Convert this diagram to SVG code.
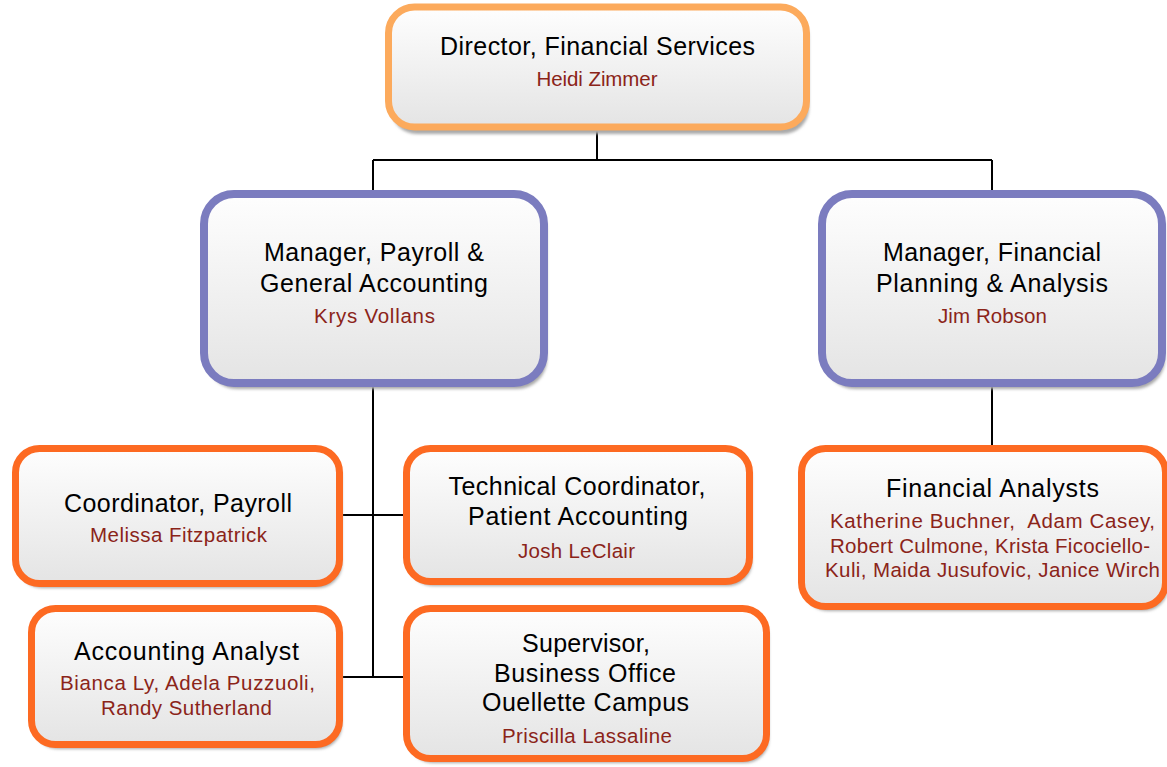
<svg xmlns="http://www.w3.org/2000/svg" width="1167" height="767" viewBox="0 0 1167 767">
<defs>
<linearGradient id="g" x1="0" y1="0" x2="0" y2="1">
<stop offset="0" stop-color="#fefefe"/>
<stop offset="1" stop-color="#e4e4e4"/>
</linearGradient>
<filter id="blur" x="-5%" y="-5%" width="110%" height="115%"><feGaussianBlur stdDeviation="1.5"/></filter>
</defs>
<style>
.box{fill:url(#g)}
.sh{fill:#a9a9a9;filter:url(#blur)}
.dir{stroke:#fcaa5c;stroke-width:7}
.mgr{stroke:#7b7cbf;stroke-width:8}
.leaf{stroke:#fd6a22;stroke-width:7}
.t{font-family:"Liberation Sans",Arial,sans-serif;font-size:25px;fill:#000;text-anchor:middle}
.n{font-family:"Liberation Sans",Arial,sans-serif;font-size:20.5px;fill:#8b2419;text-anchor:middle}
.c{stroke:#000;stroke-width:2;fill:none}
</style>
<rect width="1167" height="767" fill="#fff"/>
<g id="connectors">
<path class="c" d="M597 130V160M373 160H992M373 160V192M992 160V192"/>
<path class="c" d="M373 386V677M343 515H405M343 677H405"/>
<path class="c" d="M992 386V447"/>
</g>
<g id="director">
<rect class="sh" x="391" y="12" width="418" height="122" rx="26"/>
<rect class="box dir" x="388.5" y="7" width="418" height="120" rx="26"/>
<text class="t" x="597.5" y="55" textLength="315" lengthAdjust="spacing">Director, Financial Services</text>
<text class="n" x="597" y="86" textLength="121" lengthAdjust="spacing">Heidi Zimmer</text>
</g>
<g id="mgr-payroll">
<rect class="sh" x="207" y="200" width="340" height="189" rx="30"/>
<rect class="box mgr" x="204" y="194" width="340" height="189" rx="30"/>
<text class="t" x="374" y="261" textLength="220" lengthAdjust="spacing">Manager, Payroll &amp;</text>
<text class="t" x="374" y="292" textLength="228" lengthAdjust="spacing">General Accounting</text>
<text class="n" x="374.5" y="323" textLength="121" lengthAdjust="spacing">Krys Vollans</text>
</g>
<g id="mgr-fpa">
<rect class="sh" x="825" y="200" width="340" height="189" rx="30"/>
<rect class="box mgr" x="822" y="194" width="340" height="189" rx="30"/>
<text class="t" x="992" y="261" textLength="218" lengthAdjust="spacing">Manager, Financial</text>
<text class="t" x="992" y="292" textLength="232" lengthAdjust="spacing">Planning &amp; Analysis</text>
<text class="n" x="992.5" y="323" textLength="109" lengthAdjust="spacing">Jim Robson</text>
</g>
<g id="coord-payroll">
<rect class="sh" x="18" y="453" width="324" height="135" rx="24"/>
<rect class="box leaf" x="15.5" y="448.5" width="324" height="135" rx="24"/>
<text class="t" x="178" y="512" textLength="228" lengthAdjust="spacing">Coordinator, Payroll</text>
<text class="n" x="178.5" y="542" textLength="177" lengthAdjust="spacing">Melissa Fitzpatrick</text>
</g>
<g id="tech-coord">
<rect class="sh" x="409" y="453" width="343" height="133" rx="24"/>
<rect class="box leaf" x="406.5" y="448.5" width="343" height="133" rx="24"/>
<text class="t" x="577" y="495" textLength="257" lengthAdjust="spacing">Technical Coordinator,</text>
<text class="t" x="578" y="525" textLength="220" lengthAdjust="spacing">Patient Accounting</text>
<text class="n" x="576.5" y="558" textLength="117" lengthAdjust="spacing">Josh LeClair</text>
</g>
<g id="acct-analyst">
<rect class="sh" x="34" y="613" width="308" height="136" rx="24"/>
<rect class="box leaf" x="31.5" y="608.5" width="308" height="136" rx="24"/>
<text class="t" x="186.5" y="660" textLength="225" lengthAdjust="spacing">Accounting Analyst</text>
<text class="n" x="187.5" y="690" textLength="255" lengthAdjust="spacing">Bianca Ly, Adela Puzzuoli,</text>
<text class="n" x="186.5" y="715" textLength="171" lengthAdjust="spacing">Randy Sutherland</text>
</g>
<g id="supervisor">
<rect class="sh" x="409" y="613" width="360" height="150" rx="24"/>
<rect class="box leaf" x="406.5" y="608.5" width="360" height="150" rx="24"/>
<text class="t" x="586" y="652" textLength="128" lengthAdjust="spacing">Supervisor,</text>
<text class="t" x="585" y="682" textLength="182" lengthAdjust="spacing">Business Office</text>
<text class="t" x="585.5" y="711" textLength="207" lengthAdjust="spacing">Ouellette Campus</text>
<text class="n" x="587" y="743" textLength="170" lengthAdjust="spacing">Priscilla Lassaline</text>
</g>
<g id="fin-analysts">
<rect class="sh" x="804" y="453" width="364" height="158" rx="24"/>
<rect class="box leaf" x="801.5" y="448.5" width="364" height="158" rx="24"/>
<text class="t" x="992.5" y="497" textLength="213" lengthAdjust="spacing">Financial Analysts</text>
<text class="n" x="992.5" y="528" textLength="325" lengthAdjust="spacing">Katherine Buchner,&#160; Adam Casey,</text>
<text class="n" x="990" y="553" textLength="320" lengthAdjust="spacing">Robert Culmone, Krista Ficociello-</text>
<text class="n" x="992.5" y="577" textLength="335" lengthAdjust="spacing">Kuli, Maida Jusufovic, Janice Wirch</text>
</g>
</svg>
